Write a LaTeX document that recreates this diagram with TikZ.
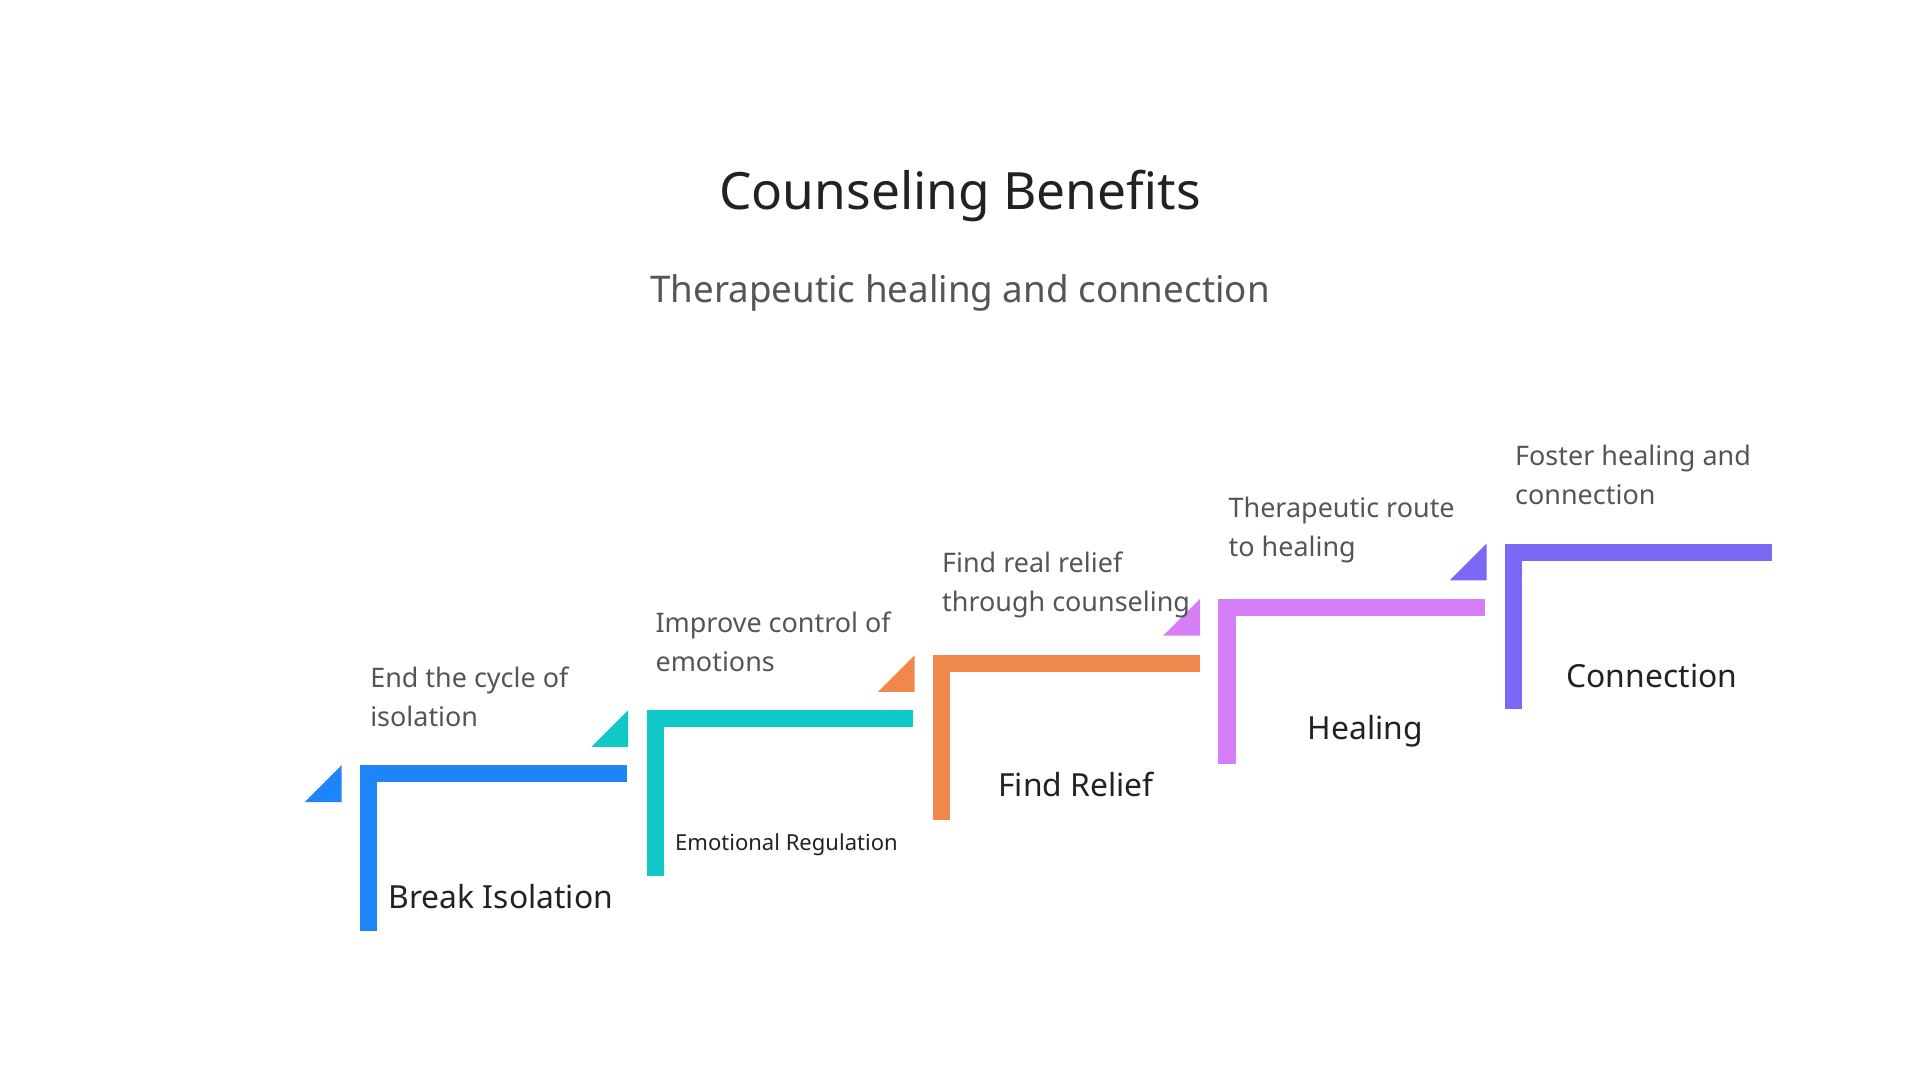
\documentclass[tikz,border=0pt]{standalone}
\usepackage{fontspec}
\setmainfont{Noto Sans}
\definecolor{cA}{HTML}{1E84FA}
\definecolor{cB}{HTML}{10C8C8}
\definecolor{cC}{HTML}{F0884C}
\definecolor{cD}{HTML}{D67EF5}
\definecolor{cE}{HTML}{7B68F5}
\definecolor{txt}{HTML}{555555}
\definecolor{ttl}{HTML}{222222}
\tikzset{
 desc/.style={anchor=west,align=left,text=txt,font=\fontsize{11}{16}\selectfont,inner sep=0pt},
 head/.style={anchor=west,text=ttl,font=\fontsize{13}{16}\selectfont\bfseries,inner sep=0pt},
}
\newcommand{\mystep}[4]{% x, y(top), colour, name
 \fill[#3] (#1,#2) rectangle ++(218,14);
 \fill[#3] (#1,#2) rectangle ++(14,135);
 \fill[#3] (#1-45,#2+30) -- (#1-15,#2) -- (#1-15,#2+30) -- cycle;
}
\begin{document}
\begin{tikzpicture}[x=0.5pt,y=-0.5pt]
\useasboundingbox (0,0) rectangle (1568,882);
\node[text=ttl,font=\fontsize{21}{25}\selectfont] (title) at (784,160) {Counseling Benefits};
\node[text=txt,font=\fontsize{15}{18}\selectfont] (sub) at (784,239) {Therapeutic healing and connection};
\mystep{294}{625}{cA}{a}
\mystep{528}{580}{cB}{b}
\mystep{762}{535}{cC}{c}
\mystep{995}{489}{cD}{d}
\mystep{1229}{444}{cE}{e}
\node[desc] (da) at (302,569) {End the cycle of\\isolation};
\node[desc] (db) at (535,524) {Improve control of\\emotions};
\node[desc] (dc) at (769,478) {Find real relief\\through counseling};
\node[desc] (dd) at (1003,433) {Therapeutic route\\to healing};
\node[desc] (de) at (1237,388) {Foster healing and\\connection};
\node[head] (ha) at (317,732) {Break Isolation};
\node[head,font=\fontsize{9}{11}\selectfont\bfseries] (hb) at (551,690) {Emotional Regulation};
\node[head] (hc) at (815,641) {Find Relief};
\node[head,anchor=center] (hd) at (1115,597) {Healing};
\node[head,anchor=center] (he) at (1349,552) {Connection};
\end{tikzpicture}
\end{document}
